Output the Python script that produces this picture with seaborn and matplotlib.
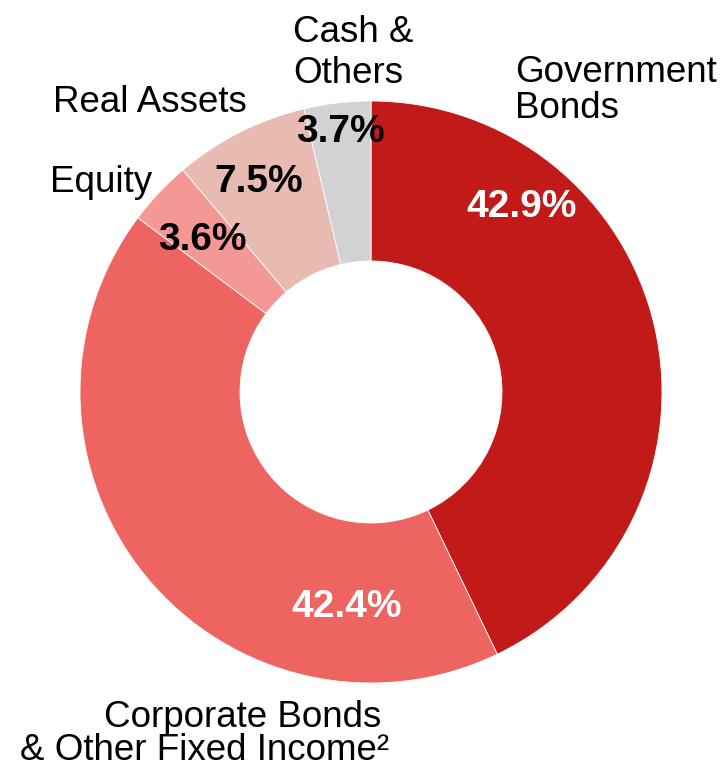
import matplotlib
matplotlib.use("Agg")
import matplotlib.pyplot as plt
import seaborn as sns

# Portfolio allocation by asset class (percent)
categories = ["Government Bonds", "Corporate Bonds & Other Fixed Income²",
              "Equity", "Real Assets", "Cash & Others"]
shares = [42.9, 42.4, 3.6, 7.5, 3.7]
pct_labels = ["42.9%", "42.4%", "3.6%", "7.5%", "3.7%"]
name_lines = [["Government", "Bonds"],
              ["Corporate Bonds", "& Other Fixed Income²"],
              ["Equity"],
              ["Real Assets"],
              ["Cash &", "Others"]]
hex_colors = ["#C11A18", "#EE6461", "#F49896", "#E7BBB1", "#D1D2D4"]

sns.set_theme(style="white")
plt.rcParams["font.family"] = ["Liberation Sans", "DejaVu Sans"]
palette = sns.color_palette(hex_colors)

W, H = 728, 767
fig = plt.figure(figsize=(W / 100, H / 100), dpi=100)
ax = fig.add_axes([0, 0, 1, 1])

cx, cy = 371, H - 392
r_out, ring = 291, 160
ax.pie(shares, colors=palette, startangle=90, counterclock=False,
       center=(cx, cy), radius=r_out,
       wedgeprops=dict(width=ring, edgecolor="white", linewidth=0.6))
ax.set_xlim(0, W)
ax.set_ylim(0, H)
ax.set_aspect("equal")
ax.axis("off")

# percentage labels inside the ring (x centre, baseline y in pixels from top)
pct_pos = [(522, 217), (347, 617), (202, 250), (259, 192), (340, 142)]
pct_color = ["white", "white", "black", "black", "black"]
for txt, (x, y), c in zip(pct_labels, pct_pos, pct_color):
    ax.text(x, H - y, txt, ha="center", va="baseline", fontsize=28,
            fontweight="bold", color=c)

# category names around the ring (left x, baseline y of each line)
name_pos = [[(515, 82), (515, 118)],
            [(104, 727), (20, 760)],
            [(50, 192)],
            [(53, 112)],
            [(293, 42), (293, 83)]]
for lines, positions in zip(name_lines, name_pos):
    for line, (x, y) in zip(lines, positions):
        ax.text(x, H - y, line, ha="left", va="baseline", fontsize=26.5,
                color="black")

fig.savefig("out.png", dpi=100)
